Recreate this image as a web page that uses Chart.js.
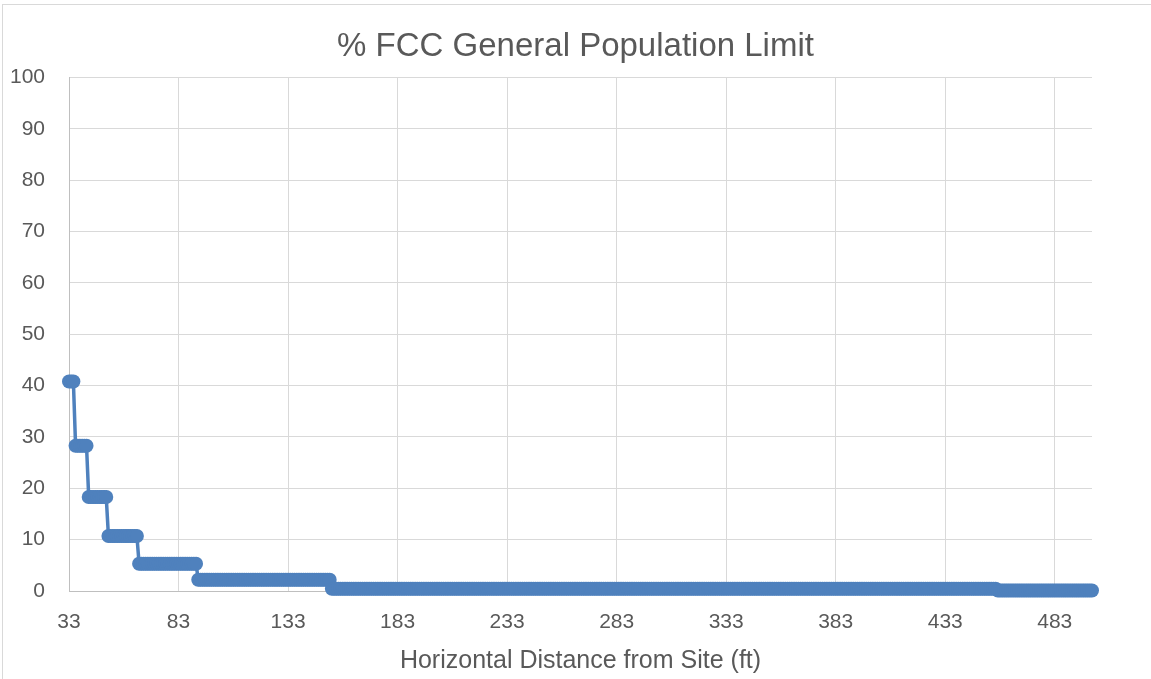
<!DOCTYPE html>
<html>
<head>
<meta charset="utf-8">
<script src="https://cdn.jsdelivr.net/npm/chart.js@4.4.1/dist/chart.umd.min.js"></script>
<style>
  html, body { margin: 0; padding: 0; background: #fff; }
  #frame { position: absolute; left: 2px; top: 4px; width: 1160px; height: 690px;
           border-top: 1px solid #d9d9d9; border-left: 1px solid #d9d9d9; }
  #fccChart { position: absolute; left: 0; top: 0; }
</style>
</head>
<body>
<div id="frame"></div>
<canvas id="fccChart" width="1151" height="679"></canvas>
<script>
// 読み取った値（階段状）: 各段の開始距離と値
const levelStart = [33, 36, 42, 51, 65, 92, 153, 457];
const levelValue = [40.8, 28.3, 18.3, 10.7, 5.3, 2.2, 0.45, 0.1];
const lastDistance = 500;

// 目盛ラベル
const xTickLabels = [33, 83, 133, 183, 233, 283, 333, 383, 433, 483];
const yTickLabels = [0, 10, 20, 30, 40, 50, 60, 70, 80, 90, 100];

const textColor = '#595959';
const fontFamily = '"Liberation Sans", Arial, sans-serif';

// 1 ftごとの点を作る
function buildPoints() {
    const pts = [];
    for (let d = levelStart[0]; d <= lastDistance; d++) {
        let v = levelValue[0];
        for (let i = 0; i < levelStart.length; i++) {
            if (d >= levelStart[i]) v = levelValue[i];
        }
        pts.push({ x: d, y: v });
    }
    return pts;
}

const ctx = document.getElementById('fccChart').getContext('2d');
new Chart(ctx, {
    type: 'line',
    data: {
        datasets: [{
            data: buildPoints(),
            borderColor: '#4f81bd',
            backgroundColor: '#4f81bd',
            borderWidth: 3.5,
            pointRadius: 7,
            pointBorderWidth: 0,
            pointHoverRadius: 7,
            clip: false
        }]
    },
    options: {
        responsive: false,
        animation: false,
        layout: { padding: 0 },
        plugins: {
            legend: { display: false },
            tooltip: { enabled: false },
            title: {
                display: true,
                text: '% FCC General Population Limit',
                color: textColor,
                font: { family: fontFamily, size: 33, weight: 'normal' },
                padding: { top: 27, bottom: 11 }
            }
        },
        scales: {
            x: {
                type: 'linear',
                min: 33,
                max: lastDistance,
                afterBuildTicks: (scale) => {
                    scale.ticks = xTickLabels.map(v => ({ value: v }));
                },
                afterFit: (scale) => { scale.height = 88; },
                grid: { color: '#d9d9d9', lineWidth: 1, drawTicks: false },
                border: { color: '#bfbfbf', width: 1 },
                ticks: {
                    color: textColor,
                    font: { family: fontFamily, size: 21 },
                    padding: 19,
                    autoSkip: false,
                    maxRotation: 0
                },
                title: {
                    display: true,
                    text: 'Horizontal Distance from Site (ft)',
                    color: textColor,
                    font: { family: fontFamily, size: 25 },
                    padding: { top: 6, bottom: 3 }
                }
            },
            y: {
                min: 0,
                max: 100,
                afterBuildTicks: (scale) => {
                    scale.ticks = yTickLabels.map(v => ({ value: v }));
                },
                afterFit: (scale) => { scale.width = 69; },
                grid: { color: '#d9d9d9', lineWidth: 1, drawTicks: false },
                border: { color: '#bfbfbf', width: 1 },
                ticks: {
                    color: textColor,
                    font: { family: fontFamily, size: 21 },
                    padding: 24
                }
            },
            // 右側の余白用（表示なし）
            yRight: {
                position: 'right',
                min: 0,
                max: 100,
                afterFit: (scale) => { scale.width = 59; },
                grid: { display: false, drawTicks: false },
                border: { display: false },
                ticks: { display: false }
            }
        }
    }
});
</script>
</body>
</html>
